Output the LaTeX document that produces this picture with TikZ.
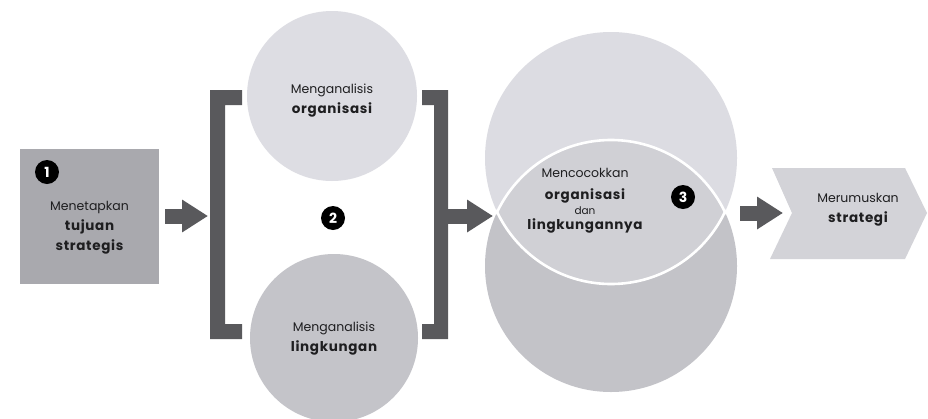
\documentclass[tikz,border=0pt]{standalone}
\usepackage{fontspec}
\setmainfont{Poppins}[BoldFeatures={LetterSpace=5}]
\usetikzlibrary{arrows.meta}

\definecolor{ink}{HTML}{1E1E20}
\definecolor{dark}{HTML}{59595C}
\definecolor{boxgray}{HTML}{A9A9AE}
\definecolor{orgfill}{HTML}{DDDDE3}
\definecolor{envfill}{HTML}{C4C4C9}
\definecolor{bigtop}{HTML}{DCDCE2}
\definecolor{bigbot}{HTML}{C3C3C8}
\definecolor{lensfill}{HTML}{D0D0D5}
\definecolor{chev}{HTML}{D3D3D8}

\newcommand{\keyword}[1]{{\fontsize{13.5}{20}\selectfont\bfseries #1}}

\begin{document}
\begin{tikzpicture}[x=1pt,y=-1pt,
  lbl/.style={font=\fontsize{12.5}{20}\selectfont, text=ink, align=center, inner sep=0pt},
  badge/.style={circle, fill=black, text=white, inner sep=0pt, minimum size=24pt,
                font=\fontsize{14}{14}\selectfont\bfseries},
  flow/.style={draw=dark, line width=15pt, -{Triangle[length=26pt,width=31pt]}},
  disc/.style={circle, inner sep=0pt, draw=none}]

\fill[white] (0,0) rectangle (928,418);
\useasboundingbox (0,0) rectangle (928,418);

% step 1: goal box
\node[fill=boxgray, minimum width=139pt, minimum height=135pt, inner sep=0pt] (goal) at (89.5,216) {};
\node[lbl] (goaltxt) at (89.5,228) {Menetapkan\\\keyword{tujuan}\\\keyword{strategis}};
\node[badge] (b1) at (47,172) {1};

% step 2: two analyses inside brackets
\node[disc, fill=orgfill, minimum size=170pt] (org) at (332,96) {};
\node[lbl] (orgtxt) at (332,101) {Menganalisis\\\keyword{organisasi}};
\node[disc, fill=envfill, minimum size=168pt] (env) at (334,338) {};
\node[lbl] (envtxt) at (334,339) {Menganalisis\\\keyword{lingkungan}};
\node[badge] (b2) at (333,218) {2};

\fill[dark] (210,90) -- (242,90) -- (242,105) -- (225,105) -- (225,324)
  -- (242,324) -- (242,339) -- (210,339) -- cycle;
\fill[dark] (448,90) -- (422,90) -- (422,105) -- (434,105) -- (434,324)
  -- (422,324) -- (422,339) -- (448,339) -- cycle;
\coordinate (lbr) at (210,216);
\coordinate (rbr) at (448,216);

% step 3: overlapping circles
\node[disc, fill=bigtop, minimum size=252pt] (bigorg) at (611,158) {};
\node[disc, fill=bigbot, minimum size=252pt] (bigenv) at (611,266) {};
\begin{scope}
  \clip (bigorg.center) circle (126);
  \fill[lensfill] (bigenv.center) circle (126);
\end{scope}
\begin{scope}
  \clip (bigorg.center) circle (127.5);
  \draw[white, line width=2.6pt] (bigenv.center) circle (126);
\end{scope}
\begin{scope}
  \clip (bigenv.center) circle (127.5);
  \draw[white, line width=2.6pt] (bigorg.center) circle (126);
\end{scope}
\coordinate (lensL) at (497,213);
\coordinate (lensR) at (725,213);
\node[lbl] (fittxt) at (585,201) {Mencocokkan\\[2pt]\keyword{organisasi}\\[-5pt]{\fontsize{10.5}{12}\selectfont dan}\\[-5pt]\keyword{lingkungannya}};
\node[badge] (b3) at (683,197) {3};

% outcome chevron
\fill[chev] (772,168) -- (905,168) -- (927,213) -- (905,259) -- (770,259) -- (792,213) -- cycle;
\coordinate (notch) at (792,213);
\node[lbl] (strat) at (858,210) {Merumuskan\\\keyword{strategi}};

% flow arrows
\draw[flow] ([xshift=6pt]goal.east) -- ([xshift=-2pt]lbr);
\draw[flow] (rbr) -- ([xshift=-4pt]rbr -| lensL);
\draw[flow] ([xshift=15pt]lensR) -- ([xshift=-9pt]notch);
\end{tikzpicture}
\end{document}
